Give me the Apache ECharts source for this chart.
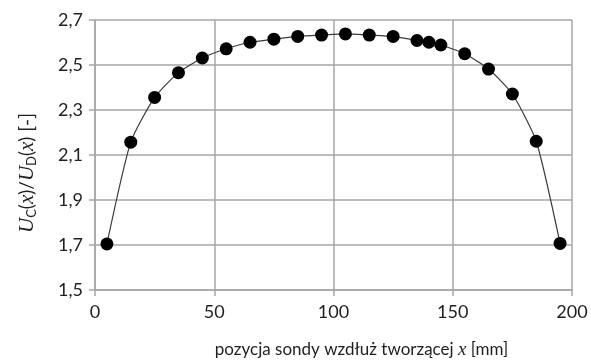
<!DOCTYPE html>
<html><head><meta charset="utf-8">
<script src="https://cdn.jsdelivr.net/npm/echarts@6/dist/echarts.min.js"></script>
<style>html,body{margin:0;padding:0;background:#fff}#c{width:591px;height:364px}</style>
</head><body><div id="c"></div>
<script>
const xValues = [5, 15, 25, 35, 45, 55, 65, 75, 85, 95, 105, 115, 125, 135, 140, 145, 155, 165, 175, 185, 195];
const yValues = [1.705, 2.157, 2.356, 2.466, 2.531, 2.572, 2.601, 2.615, 2.627, 2.633, 2.638, 2.633, 2.627, 2.609, 2.601, 2.589, 2.550, 2.482, 2.371, 2.161, 1.707];
const xTicks = [0, 50, 100, 150, 200];
const yTicks = [1.5, 1.7, 1.9, 2.1, 2.3, 2.5, 2.7];

const FONT = 'Lato';
const TXT = '#1f1f1f';
const chart = echarts.init(document.getElementById('c'), null, {renderer: 'canvas'});
const gridColor = '#a6a6a6';
chart.setOption({
  animation: false,
  backgroundColor: '#fff',
  grid: {left: 95, right: 19, top: 20, bottom: 70, show: false},
  xAxis: {
    type: 'value', min: xTicks[0], max: xTicks[xTicks.length-1], interval: 50,
    axisLine: {show: true, lineStyle: {color: gridColor, width: 1.5}},
    axisTick: {show: true, length: 6, lineStyle: {color: gridColor, width: 1.5}},
    splitLine: {show: true, lineStyle: {color: gridColor, width: 1.5}},
    axisLabel: {fontFamily: FONT, fontSize: 18, color: TXT, margin: 13,
      formatter: v => String(v)},
    name: '{n|pozycja sondy wzdłuż tworzącej }{i|x}{n| [mm]}',
    nameLocation: 'middle', nameGap: 50,
    nameTextStyle: {padding: [0, 0, 0, 56],
      rich: {n: {fontFamily: FONT, fontSize: 17, color: TXT},
             i: {fontFamily: 'Liberation Serif', fontStyle: 'italic', fontSize: 19, color: TXT}}}
  },
  yAxis: {
    type: 'value', min: yTicks[0], max: yTicks[yTicks.length-1], interval: 0.2,
    axisLine: {show: true, lineStyle: {color: gridColor, width: 1.5}},
    axisTick: {show: true, length: 6, lineStyle: {color: gridColor, width: 1.5}},
    splitLine: {show: true, lineStyle: {color: gridColor, width: 1.5}},
    axisLabel: {fontFamily: FONT, fontSize: 18, color: TXT, margin: 12,
      formatter: v => v.toFixed(1).replace('.', ',')},
    name: '{u|U}{s|C}{n|(}{u|x}{n|)/}{u|U}{s|D}{n|(}{u|x}{n|) [-]}',
    nameLocation: 'middle', nameGap: 57, nameRotate: 90,
    nameTextStyle: {padding: [0, 36, 0, 0],
      rich: {n: {fontFamily: FONT, fontSize: 19, color: TXT},
             u: {fontFamily: 'Liberation Serif', fontStyle: 'italic', fontSize: 21, color: TXT},
             s: {fontFamily: FONT, fontSize: 13, color: TXT, verticalAlign: 'bottom', padding: [9, 0, 0, 0]}}}
  },
  series: [{
    type: 'line',
    data: xValues.map((x, i) => [x, yValues[i]]),
    smooth: 0.2,
    symbol: 'circle', symbolSize: 13,
    itemStyle: {color: '#000'},
    lineStyle: {color: '#3a3a3a', width: 1.2}
  }]
});
</script></body></html>
